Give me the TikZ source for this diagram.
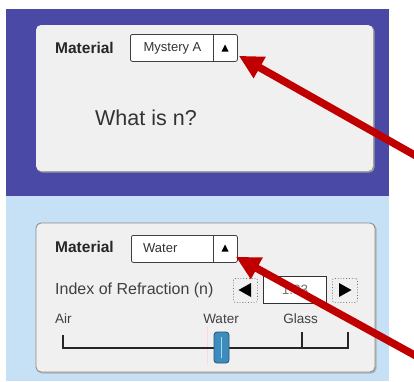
\documentclass[tikz,border=0pt]{standalone}
\usepackage{fontspec}
\setmainfont{Liberation Sans}
\usetikzlibrary{arrows.meta}
\definecolor{purp}{RGB}{74,74,166}
\definecolor{lblue}{RGB}{198,224,245}
\definecolor{panelbg}{RGB}{240,240,240}
\definecolor{arrred}{RGB}{192,0,0}
\definecolor{thumbblue}{RGB}{62,140,190}
\definecolor{thumbin}{RGB}{150,225,245}
\begin{document}
\begin{tikzpicture}[x=1pt,y=-1pt,
  panelfill/.style={fill=panelbg, rounded corners=5pt},
  ddbox/.style={draw=black!75, fill=white, rounded corners=2pt, line width=0.8pt, inner sep=0pt, anchor=north west},
  btnbox/.style={draw=black!55, dotted, fill=black!6, rounded corners=2pt, line width=0.8pt, inner sep=0pt, anchor=north west},
  valbox/.style={draw=black!80, fill=white, line width=0.9pt, inner sep=0pt, anchor=north west},
  boldlbl/.style={font=\fontsize{15.5}{18}\selectfont\bfseries, anchor=west, inner sep=0pt, text=black!85},
  ddtext/.style={font=\fontsize{13}{15}\selectfont, inner sep=0pt, text=black!80},
  smalllbl/.style={font=\fontsize{13.5}{15}\selectfont, inner sep=0pt, text=black!75},
  bigarrow/.style={draw=arrred, line width=7.5pt, -{Triangle[length=24pt,width=23pt]}}
]
\useasboundingbox (0,0) rectangle (414,381);
\fill[white] (0,0) rectangle (414,381);
% backgrounds
\fill[purp] (6,9) rectangle (389,196);
\fill[lblue] (6,196) rectangle (389,381);

% ---------- top panel ----------
\fill[black!40, rounded corners=5pt] (37,26) rectangle (374.5,172.5);
\fill[panelfill] (36,25) rectangle (373,171);
\node[boldlbl] (mat1) at (55,48) {Material};
\node[ddbox, minimum width=107pt, minimum height=27pt] (dd1) at (130,34) {};
\draw[black!75, line width=0.8pt] (213,34) -- (213,61);
\node[ddtext] (ddt1) at (172.5,48) {Mystery A};
\fill[black] (221.5,51.5) -- (228.5,51.5) -- (225,44.5) -- cycle;
\node[font=\fontsize{21.5}{24}\selectfont, anchor=west, inner sep=0pt, text=black!80] (q) at (95,118) {What is n?};

% ---------- bottom panel ----------
\fill[black!30, rounded corners=5pt] (37,224) rectangle (376.5,373.5);
\filldraw[panelfill, draw=black!45, line width=0.9pt] (36,223) rectangle (375,372);
\node[boldlbl] (mat2) at (55,247) {Material};
\node[ddbox, minimum width=106pt, minimum height=27pt] (dd2) at (131,235) {};
\draw[black!75, line width=0.8pt] (213,235) -- (213,262);
\node[ddtext, anchor=west] (ddt2) at (143,248.5) {Water};
\fill[black] (221.5,251.5) -- (228.5,251.5) -- (225,244.5) -- cycle;

\node[font=\fontsize{16}{18}\selectfont, anchor=west, inner sep=0pt, text=black!75] (ior) at (55,290) {Index of Refraction (n)};
\node[btnbox, minimum width=24pt, minimum height=24pt] (lb) at (233,278) {};
\fill[black] (238.5,290) -- (251,283) -- (251,297) -- cycle;
\node[valbox, minimum width=63pt, minimum height=27pt] (val) at (263,276) {};
\node[font=\fontsize{13.5}{15}\selectfont, inner sep=0pt, text=black!55] (valt) at (295,290) {1.33};
\node[btnbox, minimum width=25pt, minimum height=24pt] (rb) at (332,278) {};
\fill[black] (351.5,290) -- (339,283) -- (339,297) -- cycle;

\node[smalllbl, anchor=west] (air) at (55,319) {Air};
\node[smalllbl] (wat) at (221,319) {Water};
\node[smalllbl] (gls) at (300.5,319) {Glass};

% slider
\draw[red!15, line width=0.8pt] (207,326) -- (207,364);
\draw[black!85, line width=1.6pt] (63,335) -- (63,348) -- (348,348) -- (348,332);
\draw[black!85, line width=1.2pt] (302,332) -- (302,348);
\filldraw[fill=thumbblue, draw=thumbblue!60!black, line width=0.8pt, rounded corners=3pt] (214,332) rectangle (229,363);
\draw[thumbin, line width=1.2pt] (221.5,337) -- (221.5,358);

% ---------- arrows ----------
\coordinate (t1) at (418,157);
\coordinate (t2) at (418,357);
\draw[bigarrow] (t1) -- ([shift={(1,-6)}]dd1.south east);
\draw[bigarrow] (t2) -- ([shift={(-2,-6)}]dd2.south east);
\end{tikzpicture}
\end{document}
